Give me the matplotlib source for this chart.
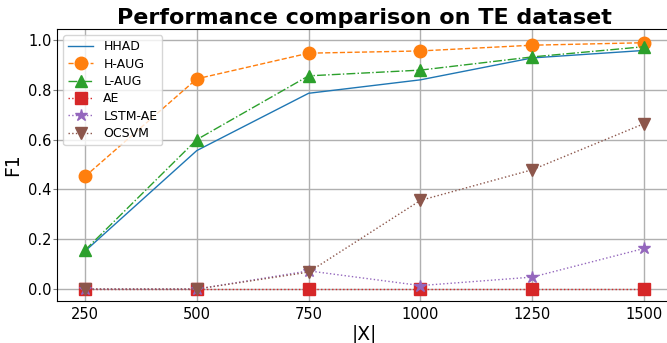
import matplotlib
matplotlib.use('Agg')
import matplotlib.pyplot as plt

sizes = [250, 500, 750, 1000, 1250, 1500]
hhad = [0.152, 0.556, 0.786, 0.840, 0.928, 0.958]
h_aug = [0.452, 0.844, 0.947, 0.956, 0.979, 0.989]
l_aug = [0.156, 0.600, 0.856, 0.879, 0.932, 0.973]
ae = [0.0, 0.0, 0.0, 0.0, 0.0, 0.0]
lstm_ae = [0.0, 0.0, 0.073, 0.014, 0.048, 0.163]
ocsvm = [0.0, 0.0, 0.068, 0.356, 0.479, 0.664]

fig = plt.figure(figsize=(6.67, 3.43), dpi=100)
ax = fig.add_axes([0.0855, 0.1224, 0.922, 0.793])

ax.plot(sizes, hhad, '-', color='tab:blue', lw=1, label='HHAD')
ax.plot(sizes, h_aug, '--', color='tab:orange', lw=1, marker='o', ms=9, label='H-AUG')
ax.plot(sizes, l_aug, '-.', color='tab:green', lw=1, marker='^', ms=9, label='L-AUG')
ax.plot(sizes, ae, ':', color='tab:red', lw=1, marker='s', ms=9, label='AE')
ax.plot(sizes, lstm_ae, ':', color='tab:purple', lw=1, marker='*', ms=9, label='LSTM-AE')
ax.plot(sizes, ocsvm, ':', color='tab:brown', lw=1, marker='v', ms=9, label='OCSVM')

ax.set_xticks(sizes)
ax.set_yticks([0.0, 0.2, 0.4, 0.6, 0.8, 1.0])
ax.set_ylim(-0.048, 1.044)
ax.tick_params(axis='x', labelsize=10.5, length=0, pad=4)
ax.tick_params(axis='y', labelsize=10.5, length=3, pad=1, color='#808080')
ax.grid(True, color='#b0b0b0', lw=1)
ax.set_xlabel('|X|', fontsize=13.5, labelpad=2)
ax.set_ylabel('F1', fontsize=13.5, labelpad=4)
ax.legend(loc='upper left', fontsize=9, labelspacing=0.35)
fig.text(364 / 667, 1 - 24 / 343, 'Performance comparison on TE dataset',
         ha='center', va='baseline', fontsize=16, fontweight='bold')

fig.savefig('out.png', dpi=100)
